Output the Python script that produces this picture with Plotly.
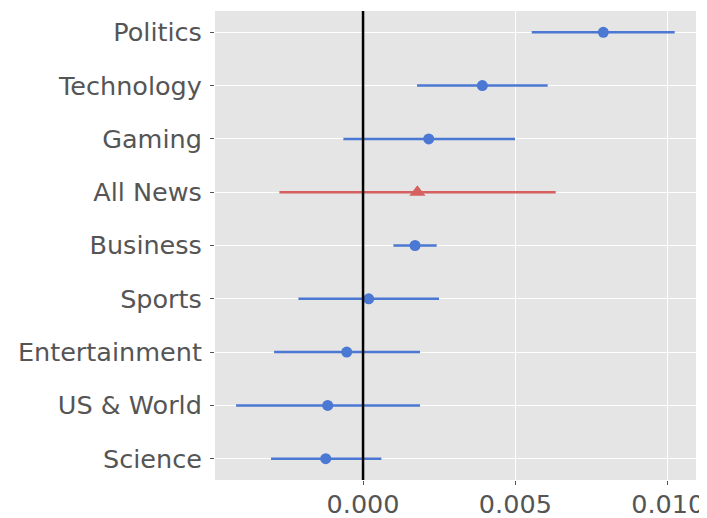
import plotly.graph_objects as go

categories = ["Politics", "Technology", "Gaming", "All News", "Business",
              "Sports", "Entertainment", "US & World", "Science"]
estimates = [0.007888, 0.003916, 0.002156, 0.001783, 0.001707,
             0.000186, -0.000536, -0.001160, -0.001225]
ci_low = [0.005537, 0.001773, -0.000646, -0.002746, 0.000996,
          -0.002122, -0.002921, -0.004168, -0.003020]
ci_high = [0.010231, 0.006061, 0.004989, 0.006324, 0.002418,
           0.002494, 0.001871, 0.001871, 0.000602]
highlight = "All News"
x_ticks = [0.0, 0.005, 0.010]
x_tick_labels = ["0.000", "0.005", "0.010"]

BLUE = "#4A78D3"
RED = "#D65F5F"

n = len(categories)
ypos = {c: n - 1 - i for i, c in enumerate(categories)}

fig = go.Figure()
for c, est, lo, hi in zip(categories, estimates, ci_low, ci_high):
    col = RED if c == highlight else BLUE
    fig.add_trace(go.Scatter(
        x=[lo, hi], y=[ypos[c], ypos[c]], mode="lines",
        line=dict(color=col, width=2.5), showlegend=False, hoverinfo="skip"))
for c, est in zip(categories, estimates):
    col = RED if c == highlight else BLUE
    sym = "triangle-up" if c == highlight else "circle"
    fig.add_trace(go.Scatter(
        x=[est], y=[ypos[c]], mode="markers",
        marker=dict(color=col, size=14 if c == highlight else 11,
                    symbol=sym, line=dict(width=0)),
        showlegend=False))

fig.add_vline(x=0, line=dict(color="black", width=2.5), layer="above")

FS = 25.5
fig.update_layout(
    width=707, height=518,
    margin=dict(l=207, r=19, t=3, b=46, autoexpand=False),
    paper_bgcolor="white", plot_bgcolor="#E5E5E5",
    font=dict(family="DejaVu Sans", size=FS, color="#555555"),
    showlegend=False,
)
fig.update_xaxes(
    range=[-0.00486, 0.01093], tickvals=x_ticks, ticktext=x_tick_labels,
    showgrid=True, gridcolor="white", gridwidth=1.3, zeroline=False,
    ticks="outside", ticklen=4, tickcolor="#555555", tickwidth=1,
    ticklabelstandoff=-3,
    tickfont=dict(size=FS, color="#555555"), showline=False, automargin=False,
)
fig.update_yaxes(
    range=[-0.4, n - 1 + 0.4],
    tickvals=[ypos[c] for c in categories], ticktext=categories,
    showgrid=True, gridcolor="white", gridwidth=1.3, zeroline=False,
    ticks="outside", ticklen=4, tickcolor="#555555", tickwidth=1,
    ticklabelstandoff=3,
    tickfont=dict(size=FS, color="#555555"), showline=False, automargin=False,
)

fig.write_html("out.html")
